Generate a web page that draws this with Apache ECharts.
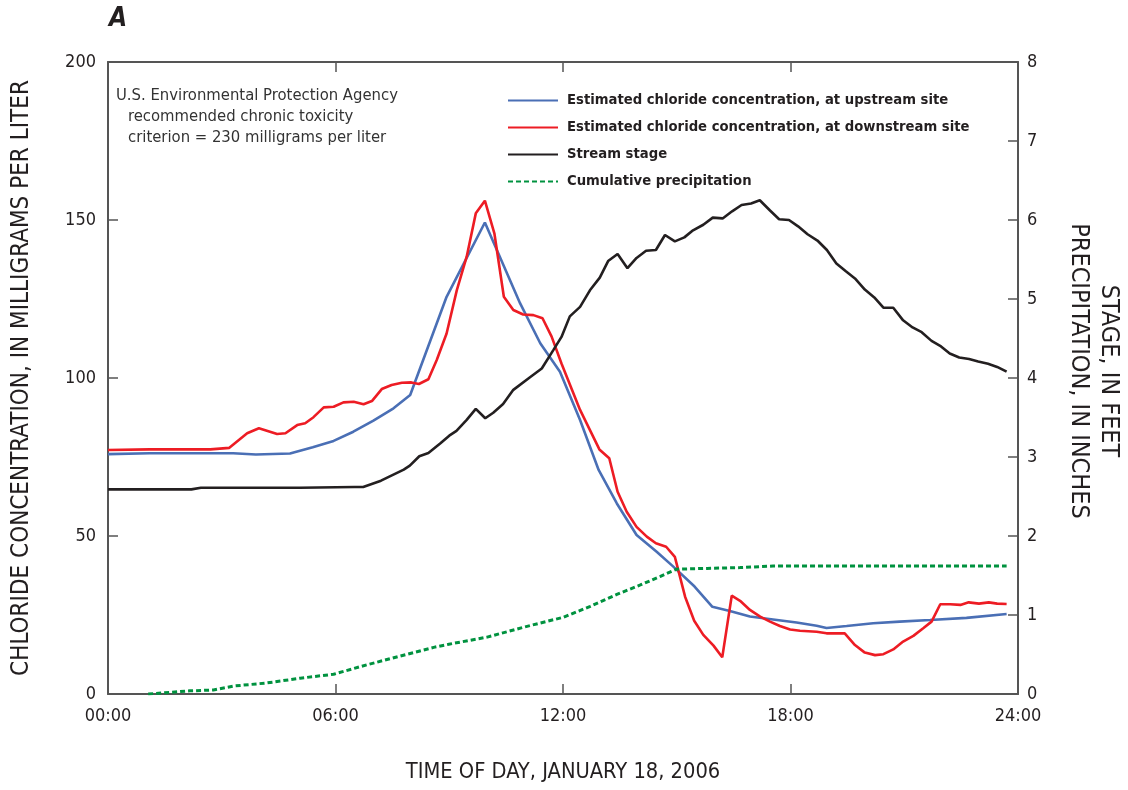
<!DOCTYPE html>
<html>
<head>
<meta charset="utf-8">
<script src="https://cdn.jsdelivr.net/npm/echarts@6/dist/echarts.min.js"></script>
<style>
html,body{margin:0;padding:0;background:#fff;}
#chart{width:1128px;height:790px;}
</style>
</head>
<body>
<div id="chart"></div>
<script>
// ---- data (hours of day, values) ----
const xTicks = ['00:00','06:00','12:00','18:00','24:00'];

const upTimes = [0,1.1,3.3,3.9,4.8,5.4,5.95,6.47,7.0,7.53,7.97,8.93,9.94,10.87,11.4,11.92,12.45,12.94,13.42,13.94,14.47,14.91,15.47,15.94,16.4,16.93,17.54,18.16,18.69,18.95,19.48,20.18,20.88,21.68,22.64,23.7];
const upValues = [75.9,76.2,76.2,75.8,76.1,78.1,80.1,83.0,86.5,90.4,94.6,125.7,149.2,123.6,111.0,102.0,86.7,70.9,60.3,50.3,45.0,40.3,34.0,27.6,26.3,24.5,23.6,22.6,21.6,20.9,21.5,22.4,22.9,23.4,24.1,25.3];

const downTimes = [0,1.1,2.7,3.2,3.67,3.98,4.46,4.68,4.99,5.2,5.42,5.69,5.95,6.21,6.48,6.74,6.96,7.22,7.48,7.75,8.0,8.2,8.45,8.67,8.93,9.2,9.46,9.7,9.94,10.19,10.44,10.69,10.95,11.22,11.46,11.7,11.96,12.45,12.96,13.22,13.44,13.68,13.94,14.21,14.45,14.72,14.95,15.22,15.46,15.7,15.97,16.2,16.45,16.67,16.93,17.2,17.46,17.72,17.99,18.25,18.69,18.95,19.43,19.7,19.96,20.23,20.45,20.71,20.97,21.24,21.5,21.72,21.95,22.21,22.48,22.7,22.97,23.23,23.45,23.7];
const downValues = [77.2,77.4,77.4,77.9,82.5,84.1,82.3,82.5,85.1,85.7,87.6,90.7,90.9,92.3,92.5,91.7,92.7,96.5,97.8,98.5,98.6,98.1,99.6,105.7,114.1,127.8,138.4,152.1,156.1,145.8,125.7,121.5,120.1,119.9,118.9,113.1,104.6,89.9,77.4,74.6,64.0,57.7,52.9,49.8,47.7,46.6,43.4,30.8,23.2,18.7,15.3,11.6,31.1,29.5,26.6,24.5,22.9,21.5,20.4,20.0,19.7,19.2,19.2,15.5,13.1,12.3,12.6,14.1,16.6,18.4,20.8,22.9,28.4,28.4,28.2,29.0,28.6,29.0,28.6,28.5];

const stageTimes = [0,2.2,2.45,5.06,6.5,6.73,7.2,7.5,7.8,7.96,8.21,8.45,8.76,9.0,9.19,9.46,9.7,9.95,10.16,10.42,10.69,11.13,11.44,11.74,11.96,12.18,12.45,12.71,12.97,13.19,13.44,13.7,13.94,14.19,14.45,14.69,14.95,15.2,15.43,15.7,15.95,16.21,16.46,16.71,16.96,17.19,17.46,17.7,17.96,18.2,18.45,18.71,18.96,19.21,19.46,19.7,19.96,20.21,20.45,20.71,20.97,21.22,21.46,21.72,21.97,22.2,22.45,22.71,22.95,23.21,23.45,23.7];
const stageValues = [2.59,2.59,2.61,2.61,2.62,2.62,2.70,2.77,2.84,2.89,3.01,3.05,3.17,3.27,3.33,3.47,3.61,3.49,3.56,3.67,3.85,4.01,4.12,4.35,4.52,4.78,4.90,5.11,5.27,5.48,5.57,5.39,5.52,5.61,5.62,5.81,5.73,5.78,5.87,5.94,6.03,6.02,6.11,6.19,6.21,6.25,6.12,6.01,6.00,5.92,5.82,5.74,5.62,5.45,5.35,5.26,5.12,5.02,4.89,4.89,4.73,4.64,4.58,4.47,4.40,4.31,4.26,4.24,4.21,4.18,4.14,4.08];

const precipTimes = [1.06,2.16,2.78,3.3,4.19,5.07,5.95,6.83,7.71,8.59,8.99,10.0,11.0,12.0,12.72,13.42,14.04,14.57,15.0,15.8,16.67,17.54,23.7];
const precipValues = [0,0.04,0.05,0.10,0.14,0.20,0.25,0.37,0.48,0.59,0.63,0.72,0.85,0.97,1.11,1.26,1.38,1.49,1.58,1.59,1.60,1.62,1.62];

const seriesNames = [
  'Estimated chloride concentration, at upstream site',
  'Estimated chloride concentration, at downstream site',
  'Stream stage',
  'Cumulative precipitation'
];

const pair = (t, v) => t.map((x, i) => [x, v[i]]);
const FONT = "'DejaVu Sans Condensed','Liberation Sans Narrow',Roboto,sans-serif";
const TXT = '#231f20';
const AX = '#555';
const tick = {show: true, inside: true, length: 10, lineStyle: {color: AX, width: 1.5}};
const line = {show: true, onZero: false, lineStyle: {color: AX, width: 2}};

const chart = echarts.init(document.getElementById('chart'), null, {renderer: 'canvas'});
chart.setOption({
  backgroundColor: '#fff',
  animation: false,
  textStyle: {fontFamily: FONT},
  grid: {left: 108, right: 110, top: 62, bottom: 96, containLabel: false, outerBoundsMode: 'none'},
  legend: {
    orient: 'vertical', left: 502, top: 88,
    itemWidth: 50, itemHeight: 14, itemGap: 12,
    data: seriesNames,
    itemStyle: {opacity: 0},
    textStyle: {fontFamily: FONT, fontSize: 14.7, fontWeight: 'bold', color: TXT, lineHeight: 14, padding: [0,0,0,4]},
    selectedMode: false
  },
  graphic: [
    {type: 'text', left: 116, top: 87, style: {text: 'U.S. Environmental Protection Agency', font: '16.5px ' + FONT, fill: '#333'}},
    {type: 'text', left: 128, top: 108, style: {text: 'recommended chronic toxicity', font: '16.5px ' + FONT, fill: '#333'}},
    {type: 'text', left: 128, top: 129, style: {text: 'criterion = 230 milligrams per liter', font: '16.5px ' + FONT, fill: '#333'}},
    {type: 'text', left: 109, top: 6, style: {text: 'A', font: 'italic bold 26px ' + FONT, fill: TXT}}
  ],
  xAxis: [{
    type: 'value', min: 0, max: 24, interval: 6,
    name: 'TIME OF DAY, JANUARY 18, 2006', nameLocation: 'middle', nameGap: 67,
    nameTextStyle: {fontFamily: FONT, fontSize: 21.7, color: TXT},
    axisLine: line, axisTick: tick,
    axisLabel: {fontFamily: FONT, fontSize: 18, color: TXT, margin: 13,
      formatter: v => xTicks[v / 6]},
    splitLine: {show: false}
  }, {
    type: 'value', min: 0, max: 24, interval: 6, position: 'top',
    axisLine: line, axisTick: tick,
    axisLabel: {show: false}, splitLine: {show: false}
  }],
  yAxis: [{
    type: 'value', min: 0, max: 200, interval: 50,
    name: 'CHLORIDE CONCENTRATION, IN MILLIGRAMS PER LITER', nameLocation: 'middle', nameGap: 74, nameRotate: 90,
    nameTextStyle: {fontFamily: FONT, fontSize: 24, color: TXT},
    axisLine: line, axisTick: tick,
    axisLabel: {fontFamily: FONT, fontSize: 18, color: TXT, margin: 12},
    splitLine: {show: false}
  }, {
    type: 'value', min: 0, max: 8, interval: 1, position: 'right',
    name: 'STAGE, IN FEET\nPRECIPITATION, IN INCHES', nameLocation: 'middle', nameGap: 45, nameRotate: -90,
    nameTextStyle: {fontFamily: FONT, fontSize: 25, color: TXT, lineHeight: 30, padding: [0, 14, 0, 0]},
    axisLine: line, axisTick: tick,
    axisLabel: {fontFamily: FONT, fontSize: 18, color: TXT, margin: 9},
    splitLine: {show: false}
  }],
  series: [
    {name: seriesNames[0], type: 'line', yAxisIndex: 0, symbol: 'none', data: pair(upTimes, upValues),
     lineStyle: {color: '#4a6fb5', width: 2.6}, itemStyle: {color: '#4a6fb5'}},
    {name: seriesNames[1], type: 'line', yAxisIndex: 0, symbol: 'none', data: pair(downTimes, downValues),
     lineStyle: {color: '#ed1c24', width: 2.6}, itemStyle: {color: '#ed1c24'}, z: 3},
    {name: seriesNames[2], type: 'line', yAxisIndex: 1, symbol: 'none', data: pair(stageTimes, stageValues),
     lineStyle: {color: '#231f20', width: 2.6}, itemStyle: {color: '#231f20'}},
    {name: seriesNames[3], type: 'line', yAxisIndex: 1, symbol: 'none', data: pair(precipTimes, precipValues),
     lineStyle: {color: '#00923f', width: 3, type: [5, 3]}, itemStyle: {color: '#00923f'}}
  ]
});
</script>
</body>
</html>
